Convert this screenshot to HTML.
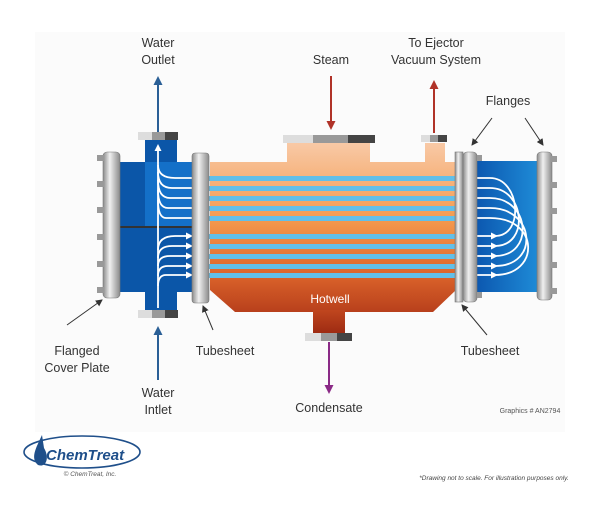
<!DOCTYPE html>
<html><head><meta charset="utf-8"><style>
body{margin:0;background:#fff;width:600px;height:500px;overflow:hidden;font-family:"Liberation Sans",sans-serif}
</style></head><body>
<svg width="600" height="500" viewBox="0 0 600 500" xmlns="http://www.w3.org/2000/svg" font-family="Liberation Sans, sans-serif">
<defs>
<linearGradient id="shell" x1="0" y1="0" x2="0" y2="1">
<stop offset="0" stop-color="#f8c9a6"/><stop offset="0.45" stop-color="#f49a4e"/><stop offset="0.75" stop-color="#e0682c"/><stop offset="1" stop-color="#b8401c"/></linearGradient>
<linearGradient id="metalV" x1="0" y1="0" x2="1" y2="0">
<stop offset="0" stop-color="#8a8a8a"/><stop offset="0.4" stop-color="#f0f0f0"/><stop offset="1" stop-color="#8a8a8a"/></linearGradient>
<linearGradient id="boxR" x1="0" y1="0" x2="1" y2="0">
<stop offset="0" stop-color="#0c58b0"/><stop offset="1" stop-color="#1e8ad6"/></linearGradient>
<linearGradient id="hotn" x1="0" y1="0" x2="0" y2="1"><stop offset="0" stop-color="#c0461e"/><stop offset="1" stop-color="#9c2a12"/></linearGradient>
<marker id="ab" markerUnits="userSpaceOnUse" markerWidth="9" markerHeight="9" refX="5" refY="4.5" orient="auto"><path d="M0,0 L9,4.5 L0,9 Z" fill="#2a5f96"/></marker>
<marker id="ar" markerUnits="userSpaceOnUse" markerWidth="9" markerHeight="9" refX="5" refY="4.5" orient="auto"><path d="M0,0 L9,4.5 L0,9 Z" fill="#b03228"/></marker>
<marker id="ap" markerUnits="userSpaceOnUse" markerWidth="9" markerHeight="9" refX="5" refY="4.5" orient="auto"><path d="M0,0 L9,4.5 L0,9 Z" fill="#8a2a86"/></marker>
<marker id="ak" markerUnits="userSpaceOnUse" markerWidth="7" markerHeight="7" refX="6" refY="3.5" orient="auto"><path d="M0,0 L7,3.5 L0,7 Z" fill="#333"/></marker>
<marker id="aw" markerUnits="userSpaceOnUse" markerWidth="7" markerHeight="7" refX="4" refY="3.5" orient="auto"><path d="M0,0 L7,3.5 L0,7 Z" fill="#fff"/></marker>
</defs>
<rect x="35" y="32" width="530" height="400" fill="#fbfbfb"/>
<path d="M210,162 H287 V143 H370 V162 H425 V143 H445 V162 H456 V290 L433,312 H235 L210,290 Z" fill="url(#shell)"/>
<rect x="283" y="135" width="30" height="8" fill="#ddd"/><rect x="313" y="135" width="35" height="8" fill="#999"/><rect x="348" y="135" width="27" height="8" fill="#444"/>
<rect x="421" y="135" width="9" height="7" fill="#ddd"/><rect x="430" y="135" width="8" height="7" fill="#999"/><rect x="438" y="135" width="9" height="7" fill="#444"/>
<rect x="313" y="310" width="32" height="24" fill="url(#hotn)"/>
<rect x="305" y="333" width="16" height="8" fill="#ddd"/><rect x="321" y="333" width="16" height="8" fill="#999"/><rect x="337" y="333" width="15" height="8" fill="#444"/>
<text x="330" y="303" fill="#fff" font-size="12" text-anchor="middle">Hotwell</text>
<g fill="#62bfe8">
<rect x="190" y="176" width="270" height="5"/><rect x="190" y="186" width="270" height="5"/><rect x="190" y="196" width="270" height="5"/><rect x="190" y="206" width="270" height="5"/><rect x="190" y="216" width="270" height="5"/>
<rect x="190" y="234" width="270" height="5"/><rect x="190" y="244" width="270" height="5"/><rect x="190" y="254" width="270" height="5"/><rect x="190" y="264" width="270" height="5"/><rect x="190" y="273" width="270" height="5"/>
</g>
<rect x="145" y="138" width="32" height="172" fill="#0b56a8"/>
<rect x="120" y="162" width="72" height="130" fill="#0b56a8"/>
<rect x="145" y="162" width="47" height="64" fill="#1470c8"/>
<line x1="120" y1="227" x2="192" y2="227" stroke="#333" stroke-width="2"/>
<rect x="138" y="132" width="14" height="8" fill="#ddd"/><rect x="152" y="132" width="13" height="8" fill="#999"/><rect x="165" y="132" width="13" height="8" fill="#444"/>
<rect x="138" y="310" width="14" height="8" fill="#ddd"/><rect x="152" y="310" width="13" height="8" fill="#999"/><rect x="165" y="310" width="13" height="8" fill="#444"/>
<g fill="none" stroke="#fff" stroke-width="1.8">
<path d="M158,308 V147" marker-end="url(#aw)"/>
<path d="M192,178 H175 Q158,178 158,165"/><path d="M192,188 H172 Q158,188 158,172"/><path d="M192,198 H170 Q158,198 158,180"/><path d="M192,208 H168 Q158,208 158,190"/><path d="M192,218 H166 Q158,218 158,200"/>
<path d="M158,250 Q158,236 175,236 H190" marker-end="url(#aw)"/><path d="M158,258 Q158,246 172,246 H190" marker-end="url(#aw)"/><path d="M158,266 Q158,256 170,256 H190" marker-end="url(#aw)"/><path d="M158,276 Q158,266 168,266 H190" marker-end="url(#aw)"/><path d="M158,286 Q158,275 166,275 H190" marker-end="url(#aw)"/>
</g>
<rect x="192" y="153" width="17" height="150" rx="3" fill="url(#metalV)" stroke="#777" stroke-width="0.6"/>
<rect x="103" y="152" width="17" height="146" rx="4" fill="url(#metalV)" stroke="#777" stroke-width="0.6"/>
<g fill="#999"><rect x="97" y="155" width="7" height="6"/><rect x="97" y="181" width="7" height="6"/><rect x="97" y="207" width="7" height="6"/><rect x="97" y="234" width="7" height="6"/><rect x="97" y="261" width="7" height="6"/><rect x="97" y="287" width="7" height="6"/></g>
<rect x="477" y="161" width="60" height="131" fill="url(#boxR)"/>
<g fill="none" stroke="#fff" stroke-width="1.8">
<path d="M456,236 H495" marker-end="url(#aw)"/><path d="M456,246 H495" marker-end="url(#aw)"/><path d="M456,256 H495" marker-end="url(#aw)"/><path d="M456,266 H495" marker-end="url(#aw)"/><path d="M456,275 H495" marker-end="url(#aw)"/>
<path d="M495,236 C525,236 520,178 490,178 H462" marker-end="url(#aw)"/>
<path d="M495,246 C530,246 525,188 490,188 H462" marker-end="url(#aw)"/>
<path d="M495,256 C535,256 530,198 490,198 H462" marker-end="url(#aw)"/>
<path d="M495,266 C540,266 535,208 490,208 H462" marker-end="url(#aw)"/>
<path d="M495,275 C540,275 540,218 490,218 H462" marker-end="url(#aw)"/>
</g>
<rect x="455" y="152" width="8" height="150" fill="url(#metalV)" stroke="#777" stroke-width="0.6"/>
<rect x="463" y="152" width="14" height="150" rx="4" fill="url(#metalV)" stroke="#777" stroke-width="0.6"/>
<rect x="537" y="152" width="15" height="148" rx="4" fill="url(#metalV)" stroke="#777" stroke-width="0.6"/>
<g fill="#999"><rect x="551" y="156" width="6" height="6"/><rect x="551" y="182" width="6" height="6"/><rect x="551" y="208" width="6" height="6"/><rect x="551" y="235" width="6" height="6"/><rect x="551" y="262" width="6" height="6"/><rect x="551" y="288" width="6" height="6"/>
<rect x="477" y="155" width="5" height="6"/><rect x="477" y="292" width="5" height="6"/></g>
<line x1="158" y1="132" x2="158" y2="80" stroke="#2a5f96" stroke-width="2" marker-end="url(#ab)"/>
<line x1="158" y1="380" x2="158" y2="330" stroke="#2a5f96" stroke-width="2" marker-end="url(#ab)"/>
<line x1="331" y1="76" x2="331" y2="126" stroke="#b03228" stroke-width="2" marker-end="url(#ar)"/>
<line x1="434" y1="133" x2="434" y2="84" stroke="#b03228" stroke-width="2" marker-end="url(#ar)"/>
<line x1="329" y1="342" x2="329" y2="390" stroke="#8a2a86" stroke-width="2" marker-end="url(#ap)"/>
<g stroke="#333" stroke-width="1" fill="none">
<line x1="492" y1="118" x2="472" y2="145" marker-end="url(#ak)"/>
<line x1="525" y1="118" x2="543" y2="145" marker-end="url(#ak)"/>
<line x1="67" y1="325" x2="102" y2="300" marker-end="url(#ak)"/>
<line x1="213" y1="330" x2="203" y2="306" marker-end="url(#ak)"/>
<line x1="487" y1="335" x2="462" y2="305" marker-end="url(#ak)"/>
</g>
<g font-size="12.5" fill="#333" text-anchor="middle">
<text x="158" y="47">Water</text><text x="158" y="64">Outlet</text>
<text x="331" y="64">Steam</text>
<text x="436" y="47">To Ejector</text><text x="436" y="64">Vacuum System</text>
<text x="508" y="105">Flanges</text>
<text x="77" y="355">Flanged</text><text x="77" y="372">Cover Plate</text>
<text x="225" y="355">Tubesheet</text>
<text x="490" y="355">Tubesheet</text>
<text x="158" y="397">Water</text><text x="158" y="414">Intlet</text>
<text x="329" y="412">Condensate</text>
</g>
<text x="530" y="413" font-size="7" fill="#555" text-anchor="middle">Graphics # AN2794</text>
<ellipse cx="82" cy="452" rx="58" ry="16" fill="none" stroke="#1f4f8a" stroke-width="1.6"/>
<path d="M42,435 C36,448 30,458 38,465 C46,468 50,458 44,448 Z" fill="#1f4f8a"/>
<text x="46" y="460" font-size="15" font-weight="bold" font-style="italic" fill="#1f4f8a">ChemTreat</text>
<text x="90" y="476" font-size="6.5" font-style="italic" fill="#555" text-anchor="middle">© ChemTreat, Inc.</text>
<text x="494" y="480" font-size="6.5" font-style="italic" fill="#444" text-anchor="middle">*Drawing not to scale. For illustration purposes only.</text>
</svg>
</body></html>
